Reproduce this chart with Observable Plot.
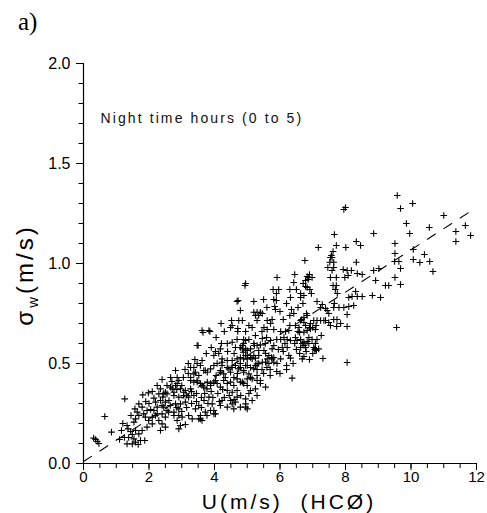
<!DOCTYPE html>
<html>
<head>
<meta charset="utf-8">
<script src="https://cdn.jsdelivr.net/npm/d3@7"></script>
<script src="https://cdn.jsdelivr.net/npm/@observablehq/plot@0.6"></script>
<style>
  body { margin: 0; background: #fff; }
  #wrap { position: relative; width: 487px; height: 513px; }
  #panel { position: absolute; left: 18px; top: 8px; font-family: "Liberation Serif", "Times New Roman", serif; font-size: 25px; color: #000; z-index: 2; }
  svg { position: absolute; left: 0; top: 0; }
</style>
</head>
<body>
<div id="wrap"><div id="panel">a)</div></div>
<script>
// Wind speed U (m/s) at HCØ
const u = [
  10.05,9.68,9.86,9.96,11.0,10.56,11.66,11.37,11.82,11.37,10.07,10.07,10.27,10.41,10.57,10.67,9.68,9.68,
  9.58,8.0,7.95,8.86,7.66,7.72,8.01,8.33,8.46,9.51,9.51,7.62,7.57,7.54,7.59,7.52,7.64,7.46,7.64,8.33,9.50,9.63,7.59,7.93,8.05,8.18,8.36,8.51,8.86,9.02,7.54,7.72,7.98,8.08,8.92,9.51,9.22,9.32,7.62,7.72,7.69,8.31,8.20,8.36,8.51,8.10,8.82,9.07,7.75,7.24,7.39,7.66,7.80,7.95,8.10,8.25,7.64,
  9.56,8.05,7.31,7.06,7.26,7.13,7.08,6.83,6.73,6.63,8.05,7.73,7.85,8.05,7.64,7.74,7.39,7.49,7.54,7.03,7.13,7.24,7.34,6.63,6.73,6.83,6.9,7.0,7.1,6.76,7.17,6.78,6.88,6.98,6.83,6.91,6.63,6.73,
  6.73,6.83,6.93,6.63,6.73,6.88,7.03,7.11,6.78,6.88,6.98,
  4.93,5.91,6.45,6.83,6.90,6.86,6.42,6.71,6.78,5.79,5.96,6.30,6.50,5.89,5.81,5.89,6.32,6.63,6.96,5.20,7.13,7.29,6.35,6.42,4.79,5.20,5.30,5.40,5.35,5.25,5.46,5.84,5.86,6.81,7.44,7.49,4.85,5.05,5.61,5.76,5.71,6.66,6.73,6.78,6.93,6.47,6.58,7.08,5.51,5.61,5.81,6.02,6.17,6.27,6.60,4.89,4.95,5.46,5.59,5.71,6.02,6.12,6.22,6.32,6.47,6.52,6.68,5.20,5.30,5.40,5.81,5.76,6.07,6.22,4.85,5.00,5.10,5.51,5.56,5.66,5.74,5.20,5.25,6.27,6.32,6.68,6.73,7.08,7.18,4.79,4.95,5.0,5.81,6.02,
  4.72,4.74,4.52,4.54,4.49,4.71,4.71,5.30,3.65,3.86,3.50,4.21,4.18,4.03,3.98,4.13,4.39,4.54,4.69,4.64,4.79,4.89,4.95,4.88,5.22,5.35,5.15,3.62,2.81,2.66,2.86,3.37,3.52,3.27,3.47,3.72,3.98,4.23,4.39,4.18,4.49,4.33,4.59,4.03,3.88,3.62,3.77,4.79,4.95,4.89,5.05,5.20,5.30,5.15,5.30,4.85,5.0,5.10,5.25,5.30,4.39,4.54,4.69,4.69,4.49,4.95,5.0,4.79,4.23,4.18,3.68,3.52,3.42,3.98,4.39,4.59,2.35,2.50,2.66,2.81,2.96,3.11,3.27,2.76,2.91,3.06,3.21,3.37,2.61,2.96,3.11,2.35,2.45,2.55,2.76,2.91,3.21,3.57,3.77,
  0.65,0.31,0.42,0.47,0.37,0.855,1.16,1.26,1.33,1.36,1.44,1.49,1.38,1.54,1.33,1.49,1.59,1.67,1.74,1.87,1.54,1.59,1.69,1.64,1.57,1.69,1.79,1.84,1.94,1.89,1.99,2.10,2.10,1.94,1.79,1.69,1.59,1.81,1.98,2.15,2.20,2.30,2.42,2.55,2.25,2.40,2.50,2.81,2.91,2.15,2.25,2.40,2.30,2.40,2.50,2.60,2.76,2.86,2.50,2.35,2.91,2.86,2.71,2.76,3.06,2.96,3.01,
  2.91,3.11,3.32,3.57,3.72,3.88,3.62,3.98,3.93,3.83,
  3.27,3.37,3.47,3.57,3.42,3.67,3.78,3.88,4.08,4.23,4.18,4.28,4.44,4.54,4.64,4.74,4.79,4.89,5.0,5.10,5.25,5.35,5.46,5.56,5.66,5.81,5.91,5.76,5.61,5.35,5.10,5.0,4.89,4.69,4.54,4.39,4.23,3.27,3.37,3.47,3.57,3.67,3.78,3.88,3.98,4.08,4.18,4.28,4.39,4.49,4.59,4.69,4.79,4.89,5.0,5.10,5.30,5.40,5.56,4.95,4.54,4.64,4.03,3.52,5.15,4.95,5.40,6.37,3.62,3.83,3.47,4.69,4.95,
  6.1,6.5,6.6,6.4,6.2,6.8,7.0,6.9,5.9,6.0,5.7,6.2,5.5,5.7,
  2.45,2.55,2.70,2.85,3.0,3.15,3.3,3.45,3.6,3.7,2.65,2.85,3.0,3.15,3.3,3.45,3.6,3.8,3.95,2.2,
  2.05,2.0,1.9,2.1,2.25,2.4,3.05,3.2,3.1,3.9,4.1,4.3,4.15,4.45,4.6,4.8,5.05,4.25,4.05,4.7,
  5.45,5.6,5.3,4.4,4.6,4.85,5.05,5.25,5.45,5.15,4.95,5.55,5.9,5.95,6.15,6.45,6.55,6.3,6.1,6.3,
  6.55,6.7,6.2,6.0,5.6,5.5,4.3,4.2,4.05,3.9,3.75,3.4,3.2,1.2,1.45,1.25,1.1
];
// Vertical velocity standard deviation sigma_w (m/s)
const sw = [
  1.30,1.275,1.20,1.15,1.24,1.18,1.19,1.16,1.14,1.11,1.07,1.02,1.005,1.045,1.01,0.96,0.975,0.895,
  1.34,1.28,1.27,1.15,1.145,1.09,1.08,1.11,1.09,1.10,1.05,1.06,1.04,1.03,1.03,1.006,1.006,0.98,0.98,1.006,1.01,1.01,0.965,0.97,0.965,0.965,0.95,0.945,0.965,0.975,0.93,0.93,0.93,0.94,0.915,0.93,0.89,0.89,0.89,0.89,0.87,0.86,0.835,0.835,0.835,0.83,0.84,0.83,0.85,0.78,0.775,0.80,0.78,0.78,0.785,0.79,0.78,
  0.68,0.505,0.525,0.57,0.64,0.62,0.60,0.61,0.59,0.58,0.685,0.685,0.70,0.745,0.72,0.72,0.715,0.705,0.69,0.715,0.715,0.715,0.715,0.715,0.73,0.74,0.68,0.68,0.69,1.015,1.08,0.915,0.93,0.93,0.88,0.87,0.85,0.84,
  0.657,0.665,0.673,0.62,0.607,0.60,0.58,0.565,0.58,0.63,0.62,
  0.89,0.93,0.945,0.935,0.945,0.92,0.905,0.90,0.885,0.87,0.87,0.87,0.87,0.85,0.82,0.815,0.83,0.83,0.85,0.81,0.81,0.795,0.77,0.75,0.765,0.756,0.756,0.756,0.74,0.74,0.75,0.785,0.77,0.75,0.765,0.75,0.715,0.69,0.715,0.72,0.70,0.72,0.705,0.69,0.70,0.69,0.68,0.67,0.68,0.67,0.67,0.66,0.66,0.665,0.655,0.62,0.615,0.625,0.63,0.615,0.62,0.63,0.62,0.615,0.63,0.615,0.60,0.60,0.59,0.593,0.59,0.573,0.58,0.58,0.573,0.565,0.573,0.565,0.55,0.54,0.53,0.54,0.527,0.54,0.527,0.523,0.535,0.573,0.573,0.53,0.54,0.523,0.53,0.523,
  0.815,0.715,0.715,0.69,0.68,0.675,0.66,0.715,0.655,0.66,0.59,0.60,0.573,0.56,0.54,0.55,0.60,0.606,0.62,0.58,0.58,0.60,0.573,0.556,0.59,0.565,0.523,0.515,0.465,0.43,0.43,0.448,0.44,0.415,0.407,0.465,0.49,0.506,0.48,0.456,0.456,0.43,0.43,0.415,0.40,0.39,0.373,0.48,0.49,0.456,0.448,0.473,0.498,0.423,0.415,0.407,0.39,0.365,0.373,0.34,0.365,0.356,0.365,0.332,0.315,0.298,0.273,0.282,0.315,0.29,0.315,0.29,0.273,0.265,0.282,0.273,0.373,0.356,0.382,0.39,0.373,0.365,0.373,0.34,0.332,0.34,0.332,0.34,0.315,0.298,0.307,0.315,0.282,0.265,0.257,0.24,0.24,0.24,0.24,
  0.235,0.127,0.11,0.10,0.12,0.157,0.165,0.323,0.19,0.173,0.16,0.145,0.13,0.123,0.098,0.098,0.106,0.095,0.115,0.115,0.207,0.223,0.24,0.257,0.273,0.298,0.282,0.248,0.265,0.232,0.215,0.232,0.198,0.182,0.165,0.148,0.165,0.343,0.353,0.327,0.307,0.348,0.332,0.348,0.282,0.29,0.307,0.298,0.273,0.265,0.248,0.248,0.215,0.198,0.232,0.257,0.24,0.215,0.182,0.165,0.415,0.40,0.373,0.356,0.356,0.19,0.232,
  0.173,0.195,0.223,0.223,0.257,0.265,0.215,0.248,0.298,0.332,
  0.48,0.48,0.50,0.49,0.456,0.465,0.456,0.473,0.50,0.49,0.465,0.448,0.473,0.48,0.49,0.473,0.50,0.465,0.49,0.48,0.49,0.50,0.506,0.506,0.50,0.506,0.50,0.523,0.523,0.54,0.53,0.54,0.523,0.523,0.515,0.515,0.523,0.43,0.407,0.415,0.40,0.382,0.407,0.39,0.407,0.40,0.382,0.415,0.40,0.407,0.39,0.423,0.407,0.40,0.423,0.43,0.44,0.415,0.382,0.282,0.298,0.307,0.248,0.223,0.315,0.323,0.40,0.427,0.665,0.665,0.59,0.81,0.90,
  0.56,0.57,0.55,0.50,0.49,0.56,0.55,0.52,0.46,0.45,0.47,0.47,0.45,0.44,
  0.35,0.39,0.41,0.37,0.39,0.34,0.36,0.35,0.33,0.35,0.29,0.28,0.26,0.28,0.30,0.31,0.28,0.30,0.33,0.24,
  0.27,0.30,0.31,0.36,0.39,0.42,0.43,0.45,0.47,0.36,0.35,0.33,0.31,0.34,0.32,0.34,0.35,0.37,0.44,0.45,
  0.47,0.48,0.47,0.56,0.55,0.59,0.62,0.64,0.66,0.68,0.66,0.60,0.62,0.57,0.60,0.60,0.66,0.69,0.72,0.74,
  0.78,0.80,0.80,0.76,0.78,0.82,0.66,0.70,0.63,0.58,0.55,0.52,0.50,0.20,0.24,0.13,0.12
];
// Dashed regression line end points
const fitU = [0, 12];
const fitSw = [0.01, 1.28];
// Tick labels
const xMajor = [0, 2, 4, 6, 8, 10, 12];
const yMajor = [0, 0.5, 1.0, 1.5, 2.0];
const xMinor = d3.range(0, 12.001, 0.5);
const yMinor = d3.range(0, 2.001, 0.1);

const points = u.map((d, i) => ({u: d, sw: sw[i]}));
const fit = fitU.map((d, i) => ({u: d, sw: fitSw[i]}));

const plusSymbol = {
  draw(context, size) {
    const r = Math.sqrt(size / Math.PI);
    context.moveTo(-r, 0); context.lineTo(r, 0);
    context.moveTo(0, -r); context.lineTo(0, r);
  }
};

const tickFont = "Liberation Sans, Arial, sans-serif";
const blank = () => "";

const chart = Plot.plot({
  width: 487,
  height: 513,
  marginLeft: 83,
  marginRight: 11,
  marginTop: 63,
  marginBottom: 50,
  style: {fontFamily: tickFont, fontSize: "15px", color: "#000", background: "transparent"},
  x: {domain: [0, 12]},
  y: {domain: [0, 2]},
  marks: [
    Plot.axisX({ticks: xMinor, tickSize: 5, tickFormat: blank, label: null, strokeWidth: 1}),
    Plot.axisX({ticks: xMajor, tickSize: 7, tickPadding: 1, tickFormat: d3.format("d"), label: null, fontSize: 15, strokeWidth: 1}),
    Plot.axisY({ticks: yMinor, tickSize: 4.5, tickFormat: blank, label: null, strokeWidth: 1}),
    Plot.axisY({ticks: yMajor, tickSize: 7, tickPadding: 6, tickFormat: d3.format(".1f"), label: null, fontSize: 16, strokeWidth: 1}),
    Plot.ruleX([0], {strokeWidth: 1.2}),
    Plot.ruleY([0], {strokeWidth: 1.2}),
    Plot.line(fit, {x: "u", y: "sw", stroke: "#000", strokeWidth: 1.1, strokeDasharray: "9.5,10"}),
    Plot.dot(points, {x: "u", y: "sw", symbol: plusSymbol, r: 3.3, stroke: "#000", strokeWidth: 1.1, fill: "none"}),
    Plot.text(["Night time hours (0 to 5)"], {frameAnchor: "top-left", dx: 17, dy: 50, textAnchor: "start", fontSize: 14, fill: "#111"})
  ]
});

const svg = d3.select(chart);
svg.selectAll("text").filter(function(){ return this.textContent.startsWith("Night"); }).attr("letter-spacing", "2.1px");

// x axis title
svg.append("text")
  .attr("x", 289).attr("y", 509)
  .attr("text-anchor", "middle")
  .attr("font-family", tickFont)
  .attr("font-size", 21)
  .attr("letter-spacing", "3px")
  .attr("fill", "#000")
  .style("white-space", "pre")
  .text("U(m/s)  (HCØ)");

// y axis title with subscript
const yt = svg.append("text")
  .attr("transform", "translate(33,275) rotate(-90)")
  .attr("text-anchor", "middle")
  .attr("font-family", tickFont)
  .attr("font-size", 24)
  .attr("letter-spacing", "3px")
  .attr("fill", "#000");
yt.append("tspan").text("σ");
yt.append("tspan").attr("font-size", 15).attr("dy", 5).text("w");
yt.append("tspan").attr("dy", -5).text("(m/s)");

document.getElementById("wrap").appendChild(chart);
</script>
</body>
</html>
